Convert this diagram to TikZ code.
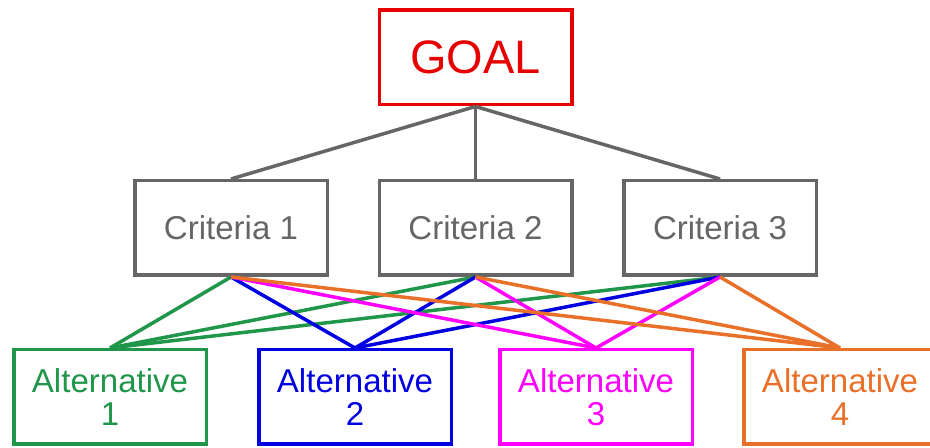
\documentclass[tikz,border=0pt]{standalone}
\usepackage{fontspec}
\setmainfont{Liberation Sans}
\definecolor{goalred}{RGB}{230,0,0}
\definecolor{critgray}{RGB}{102,102,102}
\definecolor{altgreen}{RGB}{32,150,74}
\definecolor{altblue}{RGB}{0,0,224}
\definecolor{altmagenta}{RGB}{255,0,255}
\definecolor{altorange}{RGB}{232,112,40}
\tikzset{
  box/.style = {draw, line width = 0.07cm, minimum width = 3.85cm,
    minimum height = 1.89cm, inner sep = 0, align = center,
    font = \fontsize{18.8}{18.8}\selectfont},
  link/.style = {line width = 0.07cm}
}
\begin{document}
\begin{tikzpicture}
  \clip (0, 0) rectangle (18.6cm, 8.96cm);
  % goal and criteria
  \node[box, goalred, font = \fontsize{26.7}{26.7}\selectfont] (goal)
  at (9.51cm, 7.81cm) {GOAL};
  \node[box, critgray] (c1) at (4.62cm, 4.4cm) {Criteria 1};
  \node[box, critgray] (c2) at (9.51cm, 4.4cm) {Criteria 2};
  \node[box, critgray] (c3) at (14.4cm, 4.4cm) {Criteria 3};
  % alternatives
  \node[box, altgreen] (a1) at (2.2cm, 1.02cm) {Alternative\\1};
  \node[box, altblue] (a2) at (7.1cm, 1.02cm) {Alternative\\2};
  \node[box, altmagenta] (a3) at (11.92cm, 1.02cm) {Alternative\\3};
  \node[box, altorange] (a4) at (16.8cm, 1.02cm) {Alternative\\4};
  % goal to criteria
  \foreach \c in {c1, c2, c3}
  \draw[link, critgray] (goal.south) -- (\c.north);
  % criteria to alternatives
  \foreach \a/\col in {a1/altgreen, a2/altblue, a3/altmagenta, a4/altorange}
  \foreach \c in {c1, c2, c3}
  \draw[link, \col] (\c.south) -- (\a.north);
\end{tikzpicture}
\end{document}
